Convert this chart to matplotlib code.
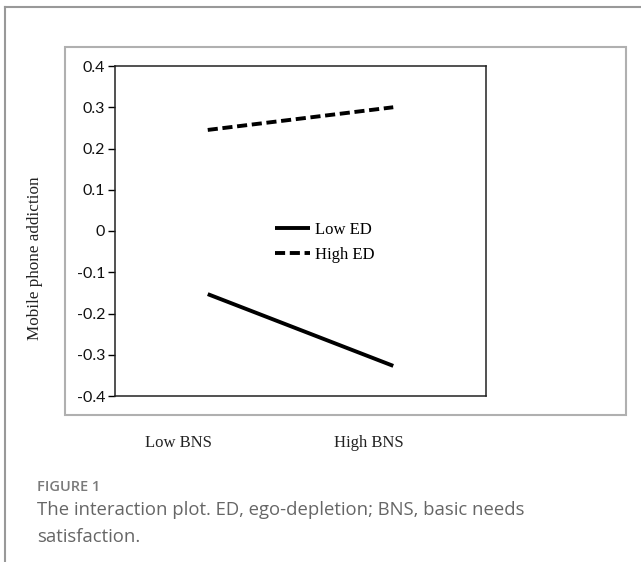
import numpy as np
import matplotlib
matplotlib.use('Agg')
from matplotlib import pyplot as plt
from matplotlib.lines import Line2D
from matplotlib.patches import Rectangle

# values
groups = ['Low BNS', 'High BNS']
low_ed = [-0.153, -0.327]
high_ed = [0.245, 0.300]
yticks = [0.4, 0.3, 0.2, 0.1, 0, -0.1, -0.2, -0.3, -0.4]
ytick_labels = ['0.4', '0.3', '0.2', '0.1', '0', '-0.1', '-0.2', '-0.3', '-0.4']

W, H = 641, 562
fig = plt.figure(figsize=(W/100, H/100), dpi=100)

def fx(px): return px / W
def fy(py): return 1 - py / H

# outer frame (top and left edges only)
fig.add_artist(Line2D([fx(5), 1], [fy(7), fy(7)], color='#999999', lw=1.5))
fig.add_artist(Line2D([fx(5), fx(5)], [fy(7), 0], color='#999999', lw=1.5))
# gray box round the chart
fig.add_artist(Rectangle((fx(65), fy(415)), fx(626) - fx(65), fy(47) - fy(415),
                         fill=False, edgecolor='#b0b0b0', lw=1.5))

ax = fig.add_axes([fx(115), fy(396), fx(486) - fx(115), fy(66) - fy(396)])
xpos = [0.25, 0.75]
ax.plot(xpos, low_ed, color='black', lw=2.8, solid_capstyle='butt', label='Low ED')
ax.plot(xpos, high_ed, color='black', lw=2.8, dashes=(2.6, 1.2), label='High ED')
ax.set_xlim(0, 1)
ax.set_ylim(-0.4, 0.4)
ax.set_yticks(yticks)
ax.set_yticklabels(ytick_labels, family='Lato', fontsize=11.5, color='#111111')
ax.set_xticks([])
ax.tick_params(axis='y', length=5, width=1, pad=2)
for s in ax.spines.values():
    s.set_linewidth(1.1)
    s.set_color('#222222')

ax.legend(loc='upper left', bbox_to_anchor=(fx(267), fy(214)), bbox_transform=fig.transFigure,
          frameon=False, borderpad=0, handlelength=2.1, handletextpad=0.3, labelspacing=0.5,
          prop={'family': 'Liberation Serif', 'size': 12})

fig.text(fx(35), fy(258), 'Mobile phone addiction', rotation=90, ha='center', va='center',
         family='Liberation Serif', fontsize=12.3, color='#222222')

for px, g in zip([178, 369], groups):
    fig.text(fx(px), fy(443), g, ha='center', va='center',
             family='Liberation Serif', fontsize=12, color='#222222')

fig.text(fx(37), fy(487), 'FIGURE 1', ha='left', va='center', family='Open Sans',
         fontsize=10.5, weight='semibold', color='#7a7a7a')
fig.text(fx(37), fy(510), 'The interaction plot. ED, ego-depletion; BNS, basic needs',
         ha='left', va='center', family='Open Sans', fontsize=13.3, color='#666666')
fig.text(fx(37), fy(537), 'satisfaction.', ha='left', va='center', family='Open Sans',
         fontsize=13.3, color='#666666')

plt.savefig('out.png', dpi=100)
